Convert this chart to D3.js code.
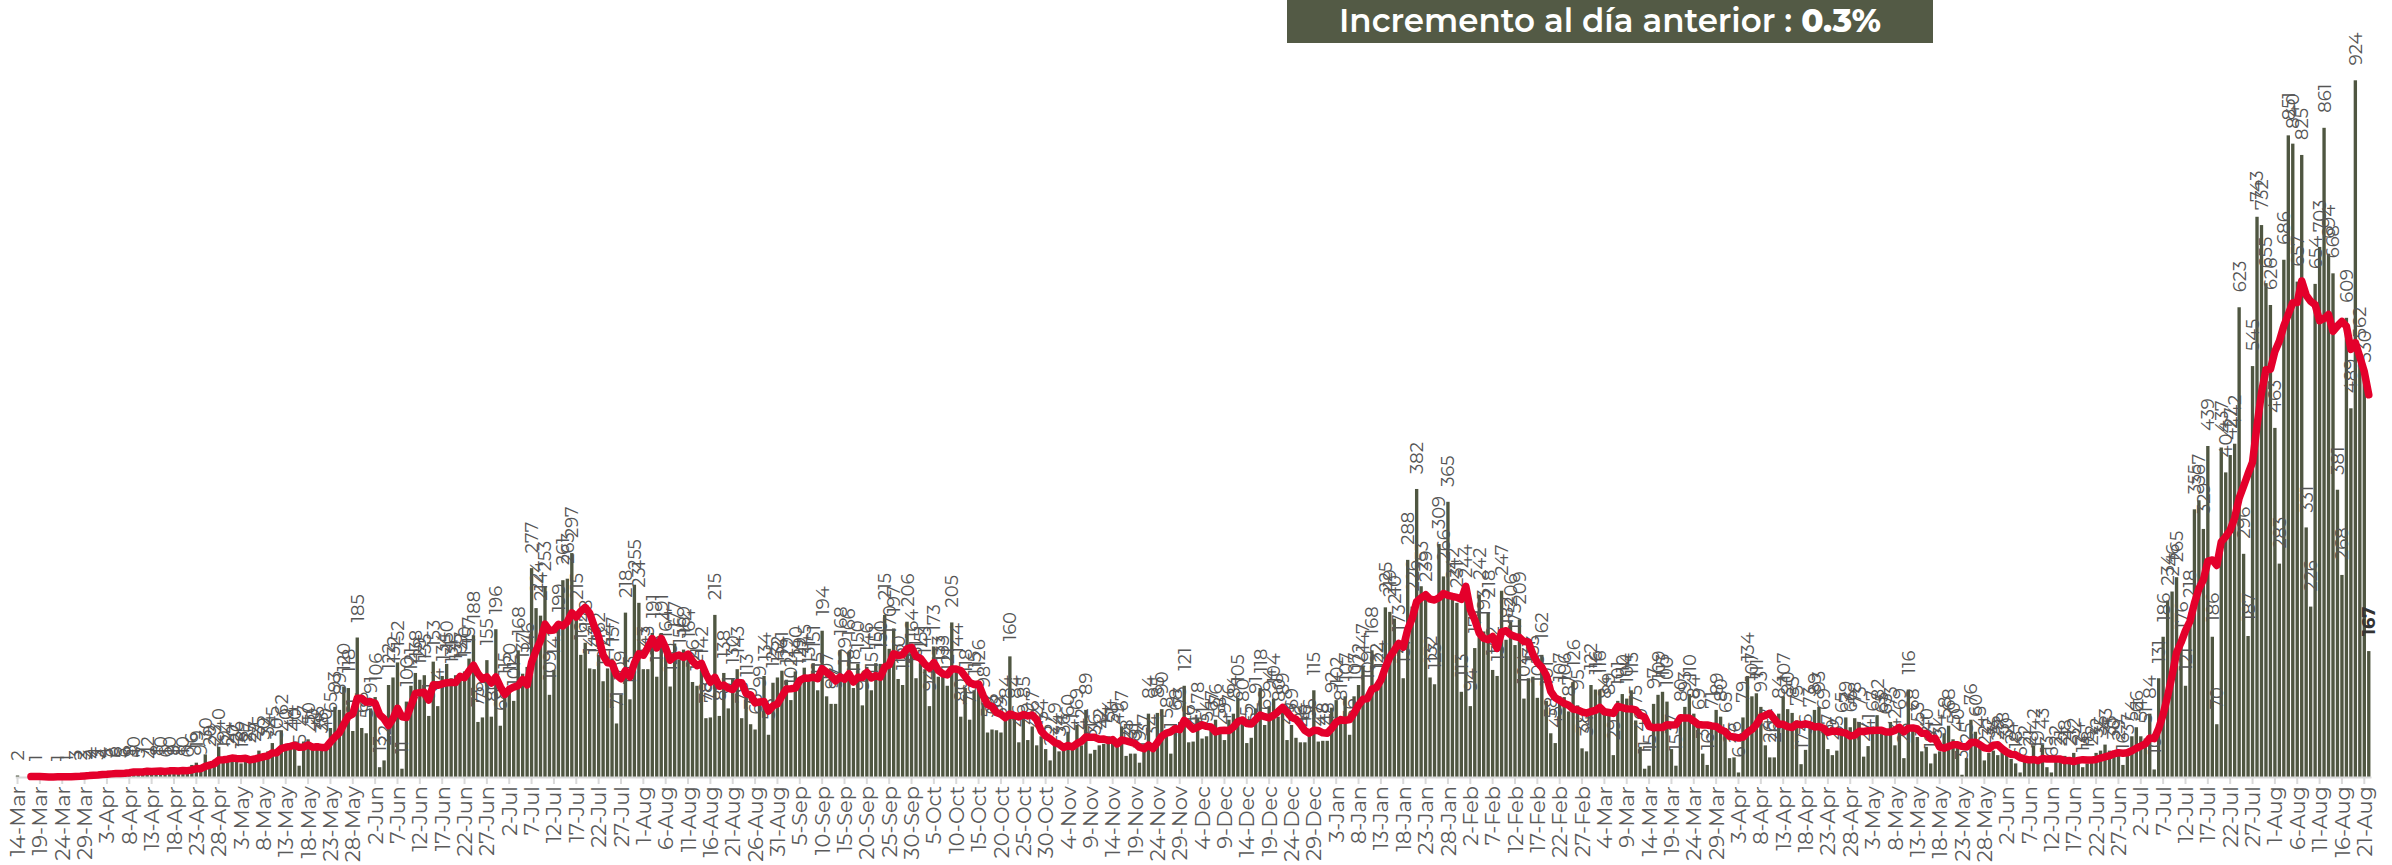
<!DOCTYPE html>
<html><head><meta charset="utf-8">
<script src="https://cdn.jsdelivr.net/npm/d3@7"></script>
<style>
html,body{margin:0;padding:0;background:#fff;}
svg{display:block;}
</style></head><body>
<svg id="chart" width="2392" height="865"></svg>
<script>
// ---------- DATA ----------
const startDate = "2020-03-14";
const titleText = "Incremento al día anterior : ";
const titleValue = "0.3%";

const dailyMarApr2020 = [2,0,0,0,1,0,0,0,0,1,0,1,0,3,2,3,4,4,3,4,5,6,6,5,6,8,10,5,7,12,4,8,10,6,10,9,8,10,6,16,19,9,30,20,23,40];
const dailyMayJun2020 = [19,24,20,26,18,27,25,27,35,30,34,45,30,62,40,44,40,15,47,50,40,45,38,40,65,93,89,120,118,61,185,65,58,91,106,13,22,122,132,152,11,100,121,138,129,135,81,153,94,134];
const dailyJunAug2020 = [150,131,135,137,140,157,188,73,79,155,80,196,68,115,120,101,168,137,146,277,224,214,253,109,142,199,261,263,297,215,162,178,144,143,162,127,144,157,71,109,218,103,255,231,143,143,191,133,191,164,120];
const dailyAugSep2020 = [177,156,169,164,126,121,142,78,79,215,81,138,91,130,143,78,113,70,63,99,134,56,125,132,141,129,102,140,129,145,131,151,115,194,107,97,97,168,129,166,118,150,95,146,115,151,150,215,170];
const dailySepNov2020 = [197,130,122,206,164,131,151,143,94,173,133,133,121,205,144,80,118,76,115,126,98,59,63,62,59,84,160,84,46,85,49,67,42,54,37,22,49,34,36,60,41,69,42,89,31,36,42,44,54];
const dailyNovDec2020 = [51,49,67,28,31,31,19,37,84,34,85,90,58,31,68,73,121,46,47,78,51,54,67,76,58,49,76,84,105,80,45,52,91,118,69,94,104,80,89,49,69,52,46,46,56,115,47,48,48];
const dailyJanFeb2021 = [92,102,81,107,56,107,122,147,109,168,122,124,225,219,210,173,131,288,226,382,253,239,132,123,309,266,365,242,231,113,244,94,171,242,193,218,142,134,247,182,206,175,209,104,131,133,105,162];
const dailyFebApr2021 = [101,58,45,107,106,87,126,95,38,34,122,116,116,84,89,29,101,110,104,115,75,40,11,15,97,109,113,100,37,15,80,93,110,84,69,31,16,71,89,80,65,25,26,6,79,134,107,111,93];
const dailyAprMay2021 = [42,26,26,84,107,90,85,75,17,36,73,89,93,69,37,29,35,65,79,66,78,73,27,41,67,82,65,63,73,42,69,25,116,68,53,34,40,18,31,34,58,68,50,40,3,25,76,60,45,22];
const dailyMayJul2021 = [32,35,29,38,30,24,18,6,22,21,42,19,43,13,6,22,21,28,21,32,24,13,18,22,32,35,43,35,30,29,16,37,54,66,54,51,84,10];
const dailyJulAug2021 = [131,186,234,246,265,176,121,218,355,367,329,439,186,70,437,404,427,442,623,296,187,545,743,732,655,626,463,283,686,851,840,657,825,331,226,654,703,861,694,668,381,268,609,489,924,562,530,167];

const values = [].concat(dailyMarApr2020, dailyMayJun2020, dailyJunAug2020, dailyAugSep2020,
  dailySepNov2020, dailyNovDec2020, dailyJanFeb2021, dailyFebApr2021, dailyAprMay2021,
  dailyMayJul2021, dailyJulAug2021);

// ---------- CHART ----------
const FONT = "Montserrat, 'Open Sans', 'Noto Sans', sans-serif";
const parse = d3.timeParse("%Y-%m-%d");
const dates = values.map((v, i) => d3.timeDay.offset(parse(startDate), i));
const fmt = d3.timeFormat("%-d-%b");

const svg = d3.select("#chart");
const idx = d3.range(values.length);

const x = d3.scaleBand().domain(idx).range([15.3, 2371]).paddingInner(0.25).paddingOuter(0.125);
const y = d3.scaleLinear().domain([0, 1000]).range([777, 23]);
const cx = i => x(i) + x.bandwidth() / 2;

// bars
svg.append("g").selectAll("rect").data(idx).join("rect")
  .attr("x", i => x(i)).attr("width", x.bandwidth())
  .attr("y", i => y(values[i])).attr("height", i => y(0) - y(values[i]))
  .attr("fill", "#4f5641");

// axis
const axis = d3.axisBottom(x)
  .tickValues(d3.range(0, values.length, 5))
  .tickFormat(i => fmt(dates[i]))
  .tickSize(7).tickSizeOuter(0);
const gx = svg.append("g").attr("transform", `translate(0,${y(0)})`).call(axis);
gx.select(".domain").attr("stroke", "#d9d9d9").attr("stroke-width", 2);
gx.selectAll(".tick line").attr("stroke", "#d9d9d9").attr("stroke-width", 2);
gx.selectAll(".tick text")
  .attr("transform", "rotate(-90)").attr("text-anchor", "end")
  .attr("x", -9).attr("y", 0).attr("dy", "0.36em")
  .attr("fill", "#5a5a5a")
  .style("font-size", "21px").style("font-weight", 400).style("font-family", FONT);
// keep every tick label inside the picture
gx.selectAll(".tick text").each(function () {
  const len = this.getComputedTextLength();
  const room = 865 - 777 - 9 - 3;
  if (len > room) d3.select(this).style("font-size", (21 * room / len).toFixed(1) + "px");
});

// value labels
const labelData = idx.filter(i => values[i] > 0);
svg.append("g").selectAll("text").data(labelData).join("text")
  .attr("transform", i => `translate(${cx(i)},${y(values[i]) - 15}) rotate(-90)`)
  .attr("text-anchor", "start").attr("dy", "0.36em")
  .attr("fill", i => i === values.length - 1 ? "#333" : "#555")
  .style("font-family", FONT)
  .style("font-size", "18px")
  .style("font-weight", i => i === values.length - 1 ? 700 : 400)
  .text(i => values[i]);

// 7-day moving average
const ma = idx.map(i => i < 3 ? null : d3.mean(values.slice(Math.max(0, i - 6), i + 1)));
const line = d3.line()
  .defined(d => d != null)
  .x((d, i) => cx(i)).y(d => y(d));
svg.append("path").datum(ma).attr("d", line)
  .attr("fill", "none").attr("stroke", "#e4002b").attr("stroke-width", 7.5)
  .attr("stroke-linejoin", "round").attr("stroke-linecap", "round");

// title box
svg.append("rect").attr("x", 1287).attr("y", 0).attr("width", 646).attr("height", 43).attr("fill", "#535a45");
const t = svg.append("text").attr("x", 1610).attr("y", 32).attr("text-anchor", "middle")
  .attr("fill", "#fff").style("font-family", FONT).style("font-size", "32px").style("font-weight", 600);
t.append("tspan").text(titleText);
t.append("tspan").style("font-weight", 800).text(titleValue);
const tw = t.node().getComputedTextLength();
if (tw > 0) t.style("font-size", (32 * 542 / tw).toFixed(1) + "px");
</script>
</body></html>
